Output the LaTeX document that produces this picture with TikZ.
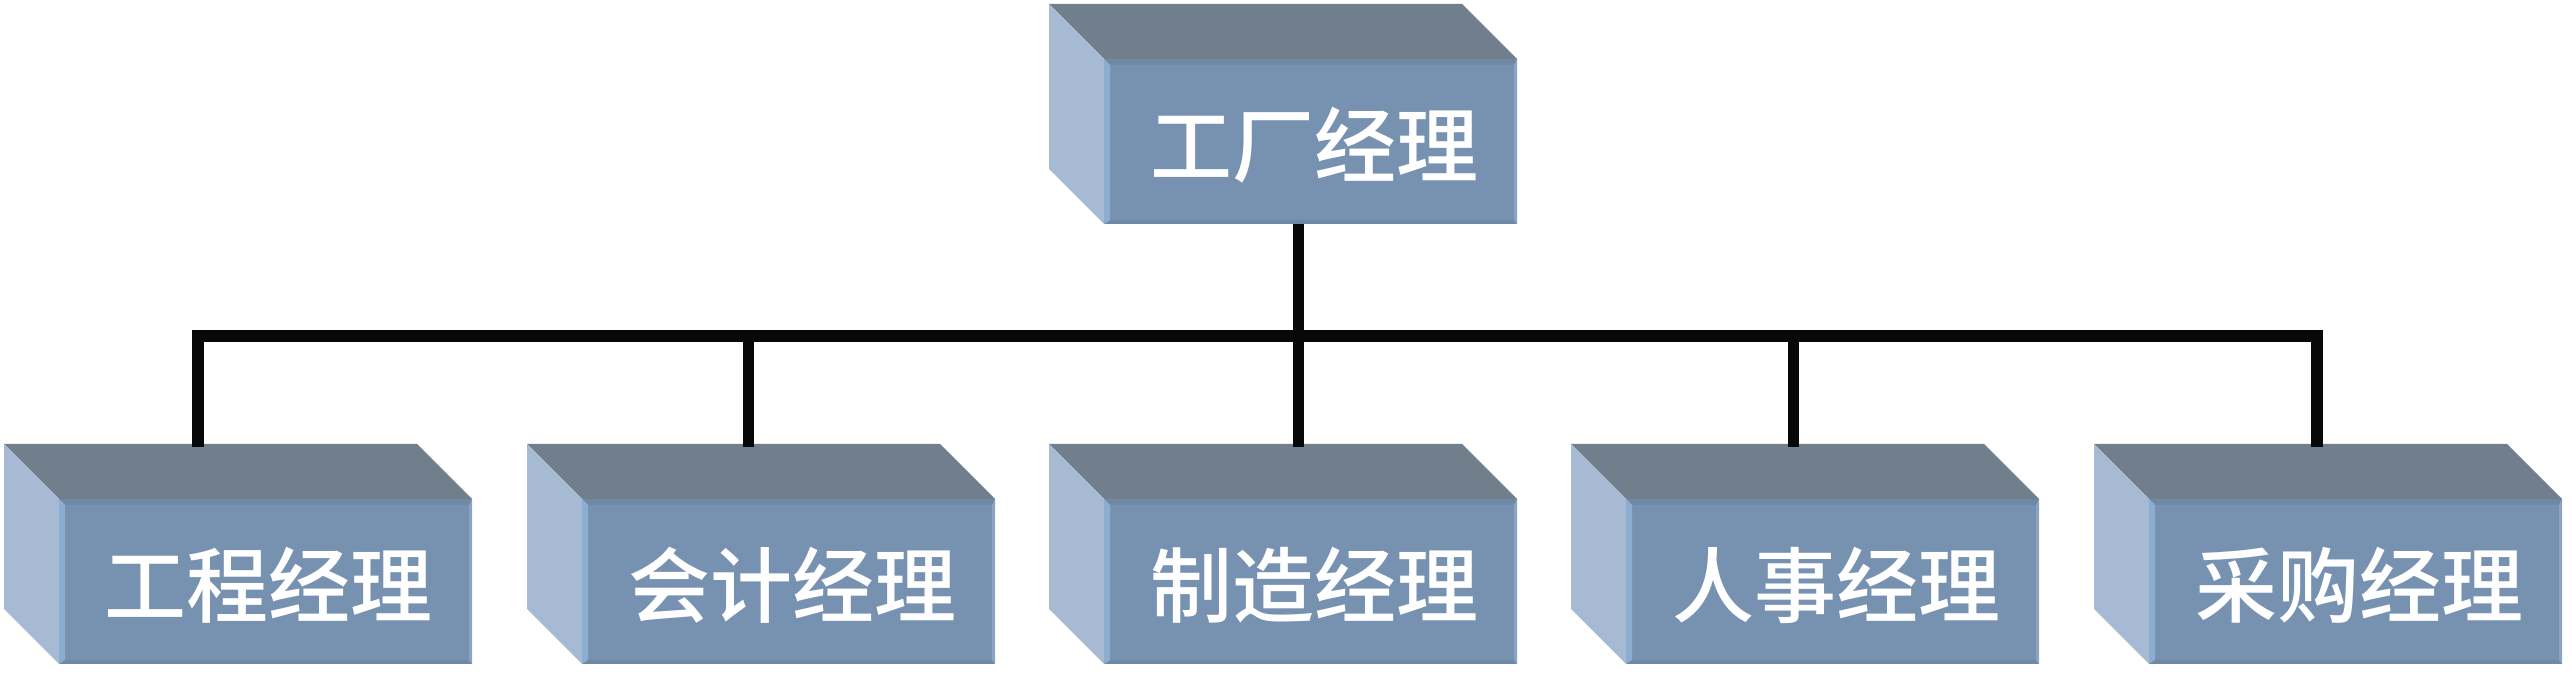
\documentclass[tikz,border=0pt]{standalone}
\usepackage{fontspec}
\newfontfamily\cjk{Noto Sans CJK SC Medium}
\definecolor{topc}{HTML}{717F8C}
\definecolor{frontc}{HTML}{7792B0}
\definecolor{leftc}{HTML}{A6BBD3}
\definecolor{bevl}{HTML}{8DADD0}
\definecolor{bevt}{HTML}{6F88A4}
\definecolor{bevr}{HTML}{8AA4C2}
\definecolor{linec}{HTML}{080808}
\tikzset{
  front/.style={fill=frontc, minimum width=103.25pt, minimum height=41.25pt,
    inner sep=0pt, outer sep=0pt},
  label/.style={text=white, inner sep=0pt, font=\cjk\fontsize{20.5pt}{24pt}\selectfont},
  conn/.style={draw=linec, line width=2.8pt},
}
\newcommand\cubebox[4]{%
  \fill[topc] ({#2},{#3}) -- ({#2+413},{#3}) -- ({#2+468},{#3+55}) -- ({#2+55},{#3+55}) -- cycle;
  \fill[leftc] ({#2},{#3}) -- ({#2+55},{#3+55}) -- ({#2+55},{#3+220}) -- ({#2},{#3+165}) -- cycle;
  \node[front] (#1) at ({#2+261.5},{#3+137.5}) {};
  \fill[bevt] ({#2+55},{#3+55}) -- ({#2+468},{#3+55}) -- ({#2+465},{#3+61}) -- ({#2+61},{#3+61}) -- cycle;
  \fill[bevt] ({#2+55},{#3+220}) -- ({#2+468},{#3+220}) -- ({#2+465},{#3+216}) -- ({#2+61},{#3+216}) -- cycle;
  \fill[bevr] ({#2+468},{#3+55}) -- ({#2+468},{#3+220}) -- ({#2+465},{#3+216}) -- ({#2+465},{#3+61}) -- cycle;
  \fill[bevl] ({#2+55},{#3+55}) -- ({#2+61},{#3+61}) -- ({#2+61},{#3+216}) -- ({#2+55},{#3+220}) -- cycle;
  \node[label] (#1t) at ({#2+265},{#3+141}) {#4};
}
\begin{document}
\begin{tikzpicture}[x=0.25pt, y=-0.25pt]
\useasboundingbox (0,0) rectangle (2572,683);
\cubebox{top}{1049}{4}{工厂经理}
\cubebox{n1}{4}{444}{工程经理}
\cubebox{n2}{527}{444}{会计经理}
\cubebox{n3}{1049}{444}{制造经理}
\cubebox{n4}{1571}{444}{人事经理}
\cubebox{n5}{2094}{444}{采购经理}
\coordinate (bus) at (1298.5,336);
\coordinate (c1) at (198,447);
\coordinate (c2) at (748.5,447);
\coordinate (c3) at (1298.5,447);
\coordinate (c4) at (1793.5,447);
\coordinate (c5) at (2317,447);
\draw[conn] (bus |- top.south) -- (bus);
\foreach \c in {c1,c2,c3,c4,c5}{
  \draw[conn] (bus) -| (\c);
}
\end{tikzpicture}
\end{document}
